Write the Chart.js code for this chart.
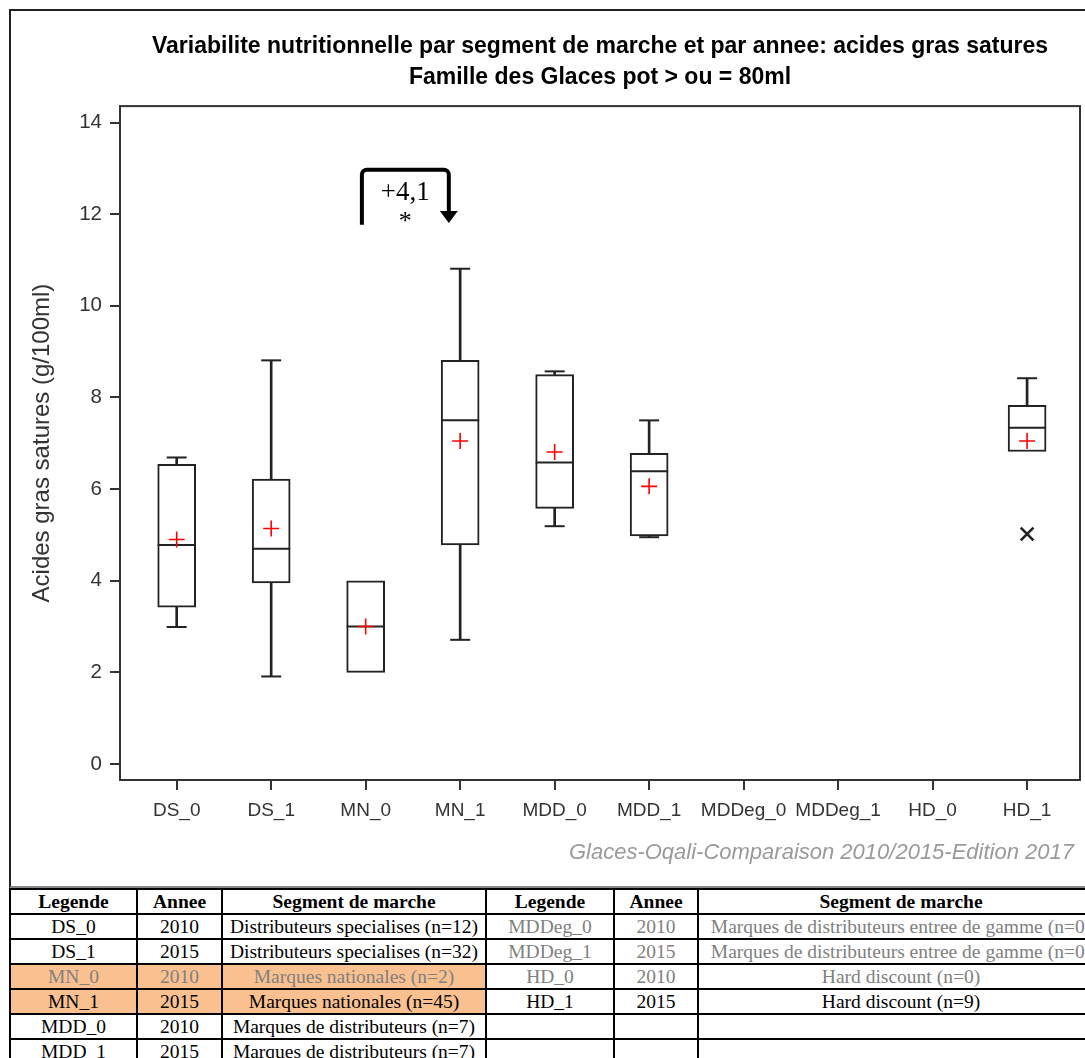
<!DOCTYPE html>
<html>
<head>
<meta charset="utf-8">
<script src="https://cdn.jsdelivr.net/npm/chart.js@4"></script>
<style>
html, body { margin: 0; padding: 0; background: #fff; width: 1085px; height: 1058px; overflow: hidden; }
#frame { position: absolute; left: 9px; top: 9px; width: 1100px; height: 875px; border: 2px solid #222; border-bottom-color: #888; }
#wrap { position: absolute; left: 0; top: 0; width: 1085px; height: 886px; }
#legend { position: absolute; left: 9px; top: 888px; width: 1094px; border-collapse: collapse; table-layout: fixed;
  font-family: 'Liberation Serif', serif; font-size: 19.5px; color: #000; }
#legend td, #legend th { border: 2px solid #000; height: 23px; padding: 0; text-align: center;
  white-space: nowrap; overflow: hidden; line-height: 22px; }
#legend th { font-weight: bold; }
#legend .grey { color: #808080; }
#legend .hl { background: #FAC090; }
</style>
</head>
<body>
<div id="frame"></div>
<div id="wrap"><canvas id="boxChart" width="1085" height="886"></canvas></div>
<table id="legend">
  <colgroup>
    <col style="width:127px"><col style="width:85px"><col style="width:264px">
    <col style="width:128px"><col style="width:84px"><col style="width:406px">
  </colgroup>
  <tbody id="legendBody"></tbody>
</table>
<script>
// categories and box statistics
const categories = ['DS_0', 'DS_1', 'MN_0', 'MN_1', 'MDD_0', 'MDD_1', 'MDDeg_0', 'MDDeg_1', 'HD_0', 'HD_1'];
const whiskerLow  = [2.99, 1.91, 2.00, 2.71, 5.19, 4.95, null, null, null, 6.82];
const q1          = [3.42, 3.95, 2.00, 4.78, 5.58, 4.98, null, null, null, 6.82];
const median      = [4.78, 4.70, 3.00, 7.50, 6.58, 6.39, null, null, null, 7.34];
const q3          = [6.54, 6.22, 4.00, 8.81, 8.50, 6.78, null, null, null, 7.83];
const whiskerHigh = [6.69, 8.81, 4.00, 10.81, 8.57, 7.50, null, null, null, 8.42];
const means       = [4.90, 5.14, 3.00, 7.05, 6.81, 6.06, null, null, null, 7.05];
const outliers    = [[], [], [], [], [], [], [], [], [], [5.02]];
const yTicks = [0, 2, 4, 6, 8, 10, 12, 14];

// legend table
const years = ['2010', '2015', '2010', '2015', '2010', '2015', '2010', '2015', '2010', '2015'];
const segments = ['Distributeurs specialises', 'Distributeurs specialises', 'Marques nationales', 'Marques nationales',
  'Marques de distributeurs', 'Marques de distributeurs', 'Marques de distributeurs entree de gamme',
  'Marques de distributeurs entree de gamme', 'Hard discount', 'Hard discount'];
const counts = [12, 32, 2, 45, 7, 7, 0, 0, 0, 9];
const highlighted = ['MN_0', 'MN_1'];

// annotation
const annDiff = '+4,1';
const annSig = '*';

const title1 = 'Variabilite nutritionnelle par segment de marche et par annee: acides gras satures';
const title2 = 'Famille des Glaces pot > ou = 80ml';
const yTitle = 'Acides gras satures (g/100ml)';
const footer = 'Glaces-Oqali-Comparaison 2010/2015-Edition 2017';

// build table
function legendCells(i, header) {
  if (header) return '<th>Legende</th><th>Annee</th><th>Segment de marche</th>';
  if (i == null) return '<td></td><td></td><td></td>';
  let cls = [];
  if (counts[i] < 3) cls.push('grey');
  if (highlighted.includes(categories[i])) cls.push('hl');
  const c = cls.length ? ' class="' + cls.join(' ') + '"' : '';
  return `<td${c}>${categories[i]}</td><td${c}>${years[i]}</td><td${c}>${segments[i]} (n=${counts[i]})</td>`;
}
let rows = '<tr>' + legendCells(null, true) + legendCells(null, true) + '</tr>';
for (let r = 0; r < 6; r++) {
  const right = r + 6 < categories.length ? r + 6 : null;
  rows += '<tr>' + legendCells(r) + legendCells(right) + '</tr>';
}
document.getElementById('legendBody').innerHTML = rows;

const ink = '#222';
const idx = categories.map((c, i) => i).filter(i => q1[i] != null);

const upperWhisker = idx.filter(i => whiskerHigh[i] > q3[i]).map(i => ({ x: i, y: [q3[i], whiskerHigh[i]] }));
const lowerWhisker = idx.filter(i => whiskerLow[i] < q1[i]).map(i => ({ x: i, y: [whiskerLow[i], q1[i]] }));
const boxes = idx.map(i => ({ x: i, y: [q1[i], q3[i]] }));
const medians = idx.map(i => ({ x: i, y: median[i] }));
const caps = idx.filter(i => whiskerHigh[i] > q3[i]).map(i => ({ x: i, y: whiskerHigh[i] }))
  .concat(idx.filter(i => whiskerLow[i] < q1[i]).map(i => ({ x: i, y: whiskerLow[i] })));
const meanPts = idx.map(i => ({ x: i, y: means[i] }));
const outPts = [];
outliers.forEach((list, i) => list.forEach(v => outPts.push({ x: i, y: v })));

const sans = "'Liberation Sans', Arial, sans-serif";

const extras = {
  id: 'extras',
  afterDraw(chart) {
    const { ctx, chartArea: a } = chart;
    const xs = chart.scales.x, ys = chart.scales.y;
    ctx.save();
    // plot frame
    ctx.strokeStyle = '#333';
    ctx.lineWidth = 2;
    ctx.strokeRect(a.left, a.top, a.right - a.left, a.bottom - a.top);

    // significance bracket between MN_0 and MN_1
    const xL = xs.getPixelForValue(1.96), xR = xs.getPixelForValue(2.88);
    const yTop = ys.getPixelForValue(12.97), yBot = ys.getPixelForValue(11.77), yTip = ys.getPixelForValue(11.81);
    ctx.strokeStyle = '#000';
    ctx.fillStyle = '#000';
    ctx.lineWidth = 4;
    ctx.lineJoin = 'round';
    ctx.beginPath();
    ctx.moveTo(xL, yBot);
    ctx.arcTo(xL, yTop, xR, yTop, 5);
    ctx.arcTo(xR, yTop, xR, yTip, 5);
    ctx.lineTo(xR, yTip - 12);
    ctx.stroke();
    ctx.beginPath();
    ctx.moveTo(xR - 9, yTip - 12);
    ctx.lineTo(xR + 9, yTip - 12);
    ctx.lineTo(xR, yTip);
    ctx.closePath();
    ctx.fill();
    ctx.textAlign = 'center';
    ctx.textBaseline = 'middle';
    ctx.font = "27px 'Liberation Serif', serif";
    ctx.fillText(annDiff, (xL + xR) / 2, ys.getPixelForValue(12.46));
    ctx.font = "26px 'Liberation Serif', serif";
    ctx.fillText(annSig, (xL + xR) / 2, ys.getPixelForValue(11.82));

    // footer
    ctx.font = "italic 22px " + sans;
    ctx.fillStyle = '#9a9a9a';
    ctx.textAlign = 'right';
    ctx.fillText(footer, 1074, 853);
    ctx.restore();
  }
};

new Chart(document.getElementById('boxChart').getContext('2d'), {
  type: 'bar',
  data: {
    datasets: [
      { type: 'bar', data: upperWhisker, backgroundColor: ink, borderWidth: 0, barThickness: 2, grouped: false, order: 6 },
      { type: 'bar', data: lowerWhisker, backgroundColor: ink, borderWidth: 0, barThickness: 2, grouped: false, order: 6 },
      { type: 'bar', data: boxes, backgroundColor: '#fff', borderColor: ink, borderWidth: 2, borderSkipped: false,
        barThickness: 38, grouped: false, order: 5 },
      { type: 'scatter', data: medians, pointStyle: 'line', pointRadius: 19, borderColor: ink, borderWidth: 2, order: 4 },
      { type: 'scatter', data: caps, pointStyle: 'line', pointRadius: 10, borderColor: ink, borderWidth: 2, order: 4 },
      { type: 'scatter', data: meanPts, pointStyle: 'cross', pointRadius: 8, borderColor: '#ff0000', borderWidth: 1.6, order: 1 },
      { type: 'scatter', data: outPts, pointStyle: 'crossRot', pointRadius: 9, borderColor: ink, borderWidth: 2.6, order: 1 }
    ]
  },
  options: {
    responsive: false,
    animation: false,
    events: [],
    layout: { autoPadding: false, padding: { left: 10, right: 5, top: 10, bottom: 0 } },
    plugins: {
      legend: { display: false },
      tooltip: { enabled: false },
      title: {
        display: true,
        fullSize: false,
        text: [title1, title2],
        color: '#000',
        font: { family: sans, size: 23, weight: 'bold', lineHeight: 1.35 },
        padding: { top: 21, bottom: 13 }
      }
    },
    scales: {
      x: {
        type: 'linear',
        min: -0.6,
        max: 9.56,
        offset: false,
        afterBuildTicks: s => { s.ticks = categories.map((c, i) => ({ value: i })); },
        afterFit: s => { s.height = 106; },
        grid: { offset: false, drawOnChartArea: false, drawTicks: true, tickLength: 10, color: '#333', lineWidth: 2 },
        border: { display: true, color: '#333', width: 2 },
        ticks: {
          autoSkip: false, maxRotation: 0, padding: 9, color: '#333',
          font: { family: sans, size: 19 },
          callback: v => categories[v] ?? ''
        }
      },
      y: {
        type: 'linear',
        min: -0.35,
        max: 14.36,
        afterBuildTicks: s => { s.ticks = yTicks.map(v => ({ value: v })); },
        afterFit: s => { s.width = 110; },
        grid: { drawOnChartArea: false, drawTicks: true, tickLength: 10, color: '#333', lineWidth: 2 },
        border: { display: true, color: '#333', width: 2 },
        ticks: { padding: 8, color: '#333', font: { family: sans, size: 20.5 } },
        title: {
          display: true,
          text: yTitle,
          color: '#333',
          font: { family: sans, size: 24, lineHeight: 1.2 },
          padding: { top: 18 }
        }
      }
    }
  },
  plugins: [extras]
});
</script>
</body>
</html>
